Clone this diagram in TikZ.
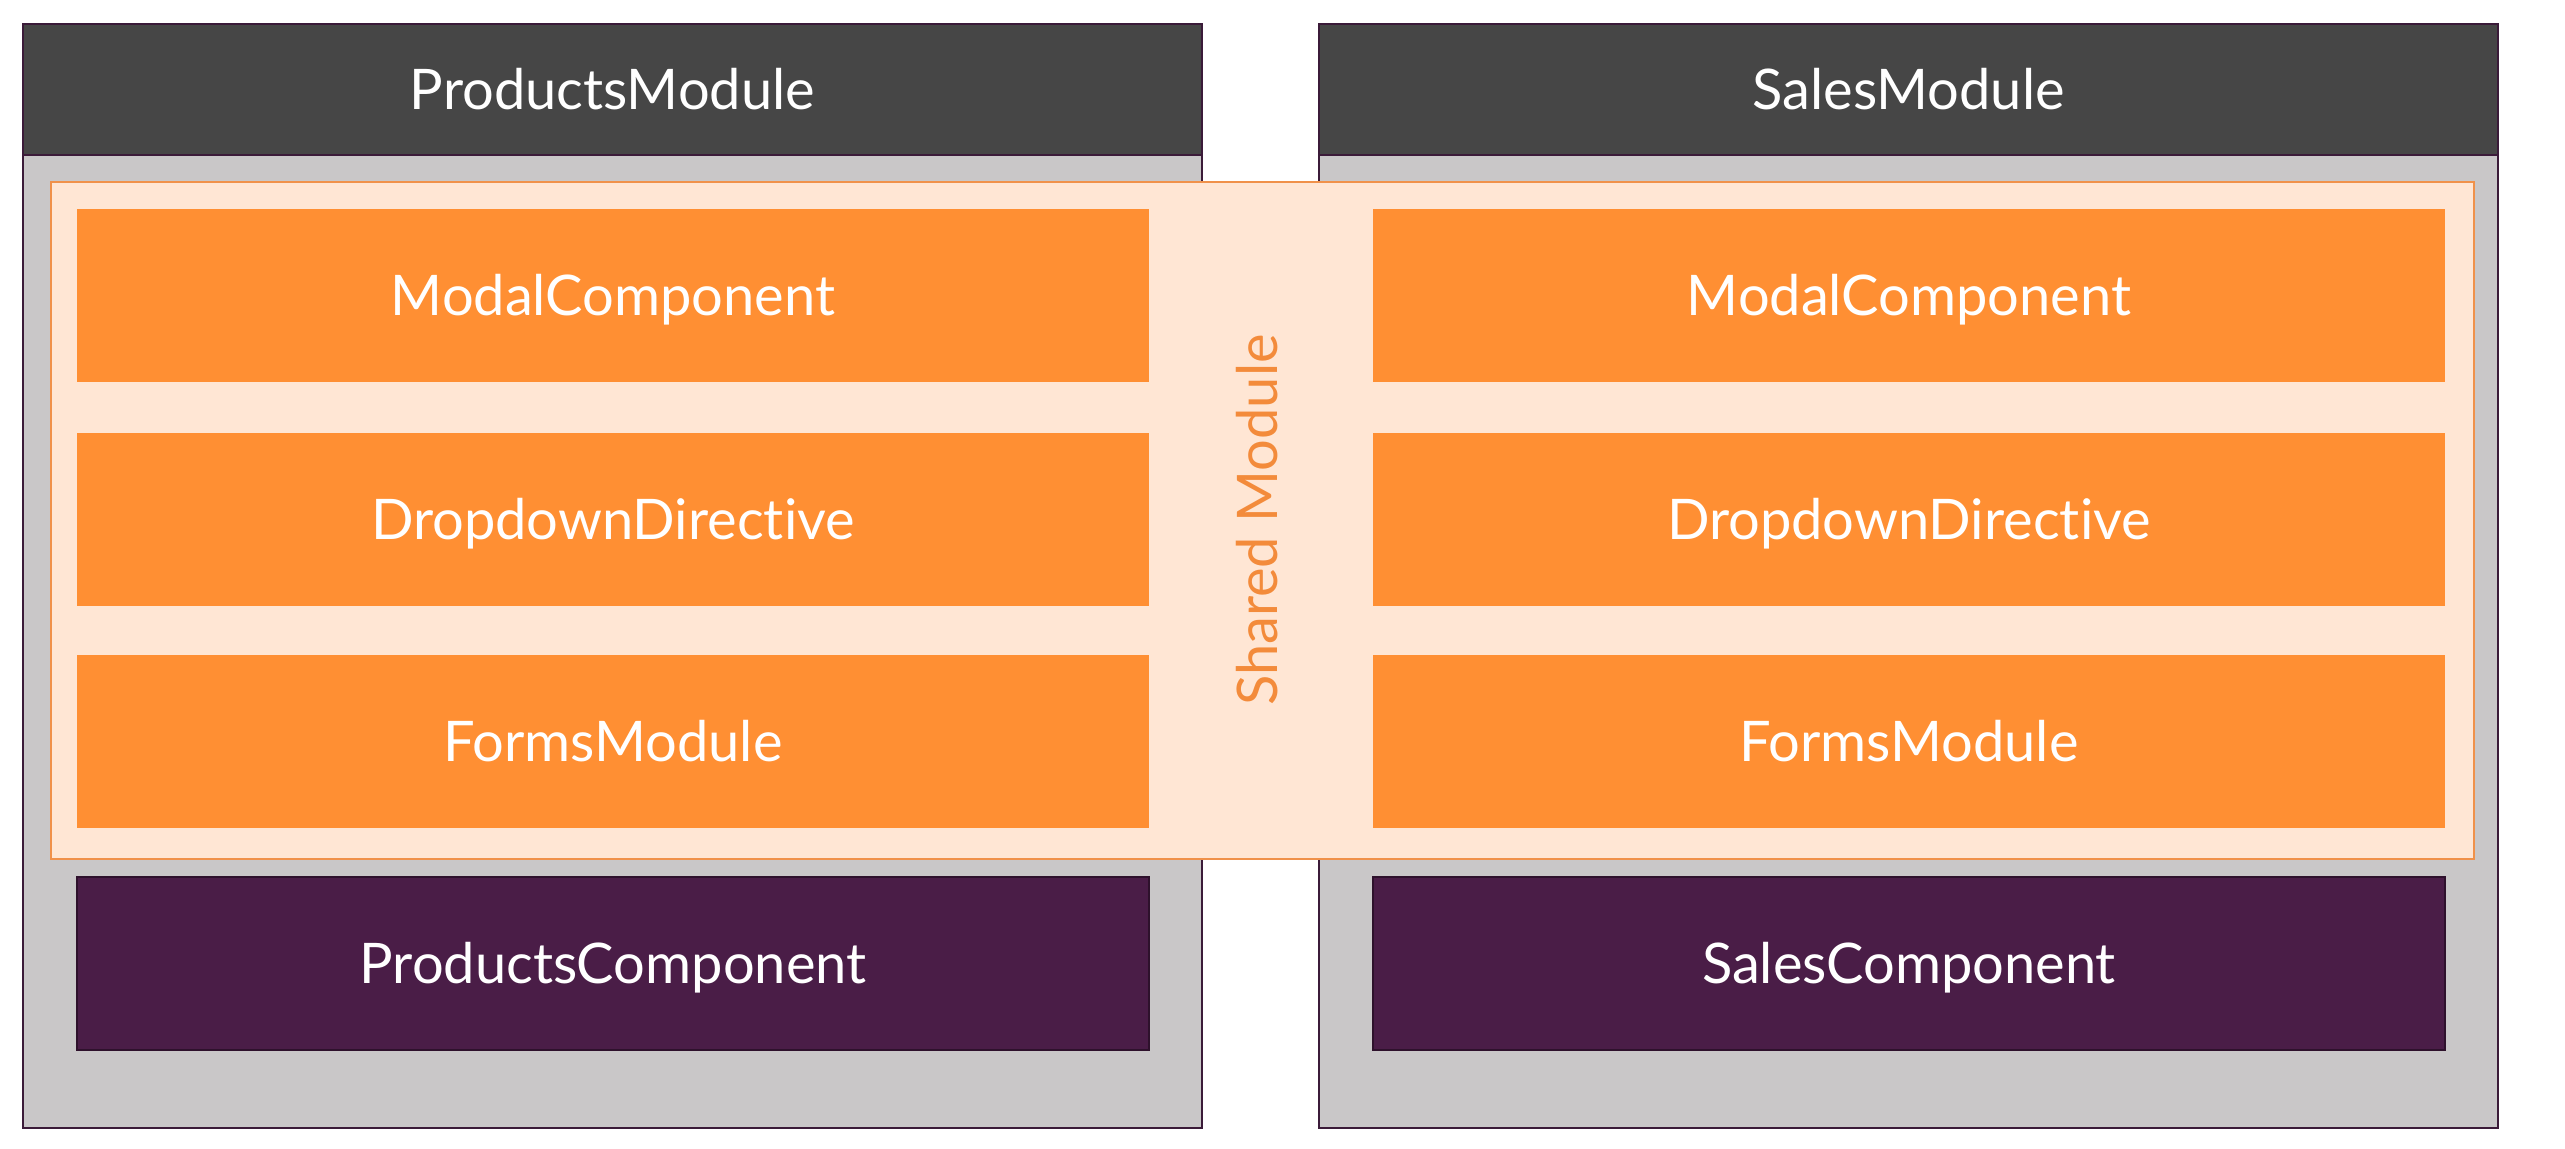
\documentclass[tikz,border=0pt]{standalone}
\usepackage{fontspec}
\setmainfont{Lato}[Ligatures={NoCommon}]
\usepackage{tikz}
\definecolor{headgray}{HTML}{464646}
\definecolor{bodygray}{HTML}{C9C7C8}
\definecolor{modline}{HTML}{3B1B39}
\definecolor{sharefill}{HTML}{FFE6D4}
\definecolor{shareline}{HTML}{F0914A}
\definecolor{partorange}{HTML}{FF8F33}
\definecolor{comppurple}{HTML}{4A1D47}
\definecolor{compline}{HTML}{2E112C}
\definecolor{labelorange}{HTML}{F38B3B}
\tikzset{
	bigtext/.style={font=\fontsize{28}{32}\selectfont,text height=20pt,text depth=0pt},
	modbox/.style={draw=modline,fill=bodygray,line width=1pt,inner sep=0pt,minimum width=589.5pt,minimum height=552pt},
	headbox/.style={draw=modline,fill=headgray,line width=1pt,inner sep=0pt,minimum width=589.5pt,minimum height=65.5pt,text=white,bigtext},
	sharebox/.style={draw=shareline,fill=sharefill,line width=1pt,inner sep=0pt,minimum width=1211.5pt,minimum height=338.5pt},
	partbox/.style={fill=partorange,inner sep=0pt,minimum width=536pt,minimum height=86.5pt,text=white,bigtext},
	compbox/.style={draw=compline,fill=comppurple,line width=0.8pt,inner sep=0pt,minimum width=536pt,minimum height=86.5pt,text=white,bigtext}
}

\begin{document}
\begin{tikzpicture}[x=0.5pt,y=-0.5pt]
	\useasboundingbox (0,0) rectangle (2565,1148);

	% the two feature modules
	\node [modbox] (products) at (612.5,576) {};
	\node [modbox] (sales) at (1908.5,576) {};
	\node [headbox] (products head) at (612.5,89.5) {ProductsModule};
	\node [headbox] (sales head) at (1908.5,89.5) {SalesModule};

	% shared module laid over both
	\node [sharebox] (shared) at (1262.5,520.5) {};
	\node [bigtext,text=labelorange,inner sep=0pt,rotate=90] (shared label) at (1257,520) {Shared Module};

	\node [partbox] (modal l) at (613,295.5) {ModalComponent};
	\node [partbox] (dropdown l) at (613,519) {DropdownDirective};
	\node [partbox] (forms l) at (613,741.5) {FormsModule};
	\node [partbox] (modal r) at (1909,295.5) {ModalComponent};
	\node [partbox] (dropdown r) at (1909,519) {DropdownDirective};
	\node [partbox] (forms r) at (1909,741.5) {FormsModule};

	% own components
	\node [compbox] (products comp) at (613,963.5) {ProductsComponent};
	\node [compbox] (sales comp) at (1909,963.5) {SalesComponent};
\end{tikzpicture}
\end{document}
